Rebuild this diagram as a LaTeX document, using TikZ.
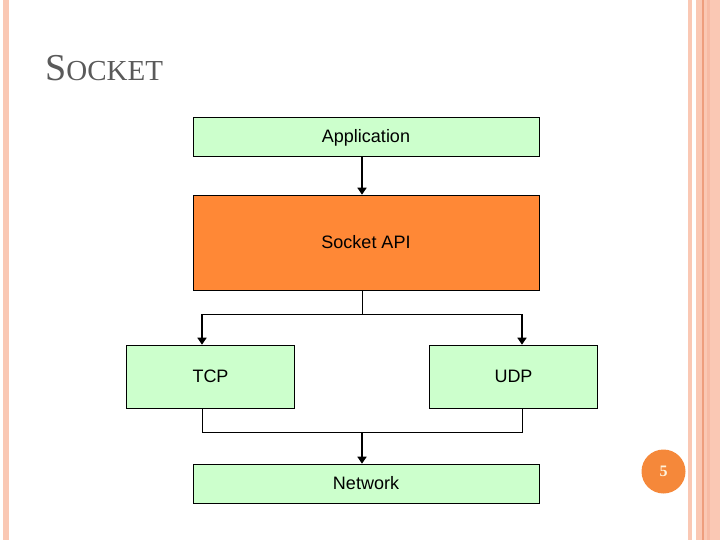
\documentclass[tikz,border=0pt]{standalone}
\usepackage{fontspec}
\setmainfont{Liberation Sans}
\newfontfamily\titlefont{Liberation Serif}
\usetikzlibrary{arrows.meta}
\definecolor{color_stripe}{HTML}{FAC8B4}
\definecolor{color_stripe_dark}{HTML}{F7BBA5}
\definecolor{color_stripe_line}{HTML}{EE9E7E}
\definecolor{color_title}{HTML}{5A5A5A}
\definecolor{color_box_green}{HTML}{CCFFCC}
\definecolor{color_box_orange}{HTML}{FF8836}
\definecolor{color_pagenum}{HTML}{F5883A}
\definecolor{color_pagenum_text}{HTML}{FFF3DC}
\def\boxlinewidth{0.6pt}
\def\arrowlinewidth{1.6pt}
\def\boxfontsize{\fontsize{18}{20}\selectfont}
\tikzset{
    layerbox/.style={draw=black, line width=\boxlinewidth, fill=color_box_green, inner sep=0pt,
        text height=12.9pt, text depth=0pt, font=\boxfontsize},
    downarrow/.style={line width=\arrowlinewidth, -{Triangle[width=9pt,length=7pt]}},
    wire/.style={line width=\boxlinewidth}
}

\begin{document}
\begin{tikzpicture}[x=1pt,y=-1pt]
        \useasboundingbox (0,0) rectangle (720,540);
        % slide frame stripes
        \fill[color_stripe] (3,0) rectangle (9,540);
        \fill[color_stripe] (688,0) rectangle (692,540);
        \fill[color_stripe] (696,0) rectangle (720,540);
        \fill[color_stripe_dark] (707,0) rectangle (710,540);
        \fill[color_stripe_line] (702,0) rectangle (703.5,540);
        % title
        \node[anchor=base west, inner sep=0pt, color_title] (title) at (45,81)
            {\titlefont\fontsize{38}{38}\selectfont S\fontsize{29}{29}\selectfont OCKET};
        % layers
        \node[layerbox, minimum width=346pt, minimum height=39pt] (app) at (366,136.5) {Application};
        \node[layerbox, fill=color_box_orange, minimum width=346pt, minimum height=95pt] (api) at (366,242.5) {Socket API};
        \node[layerbox, minimum width=168pt, minimum height=63pt] (tcp) at (210.5,376.5) {TCP};
        \node[layerbox, minimum width=168pt, minimum height=63pt] (udp) at (513.5,376.5) {UDP};
        \node[layerbox, minimum width=346pt, minimum height=39pt] (net) at (366,483.5) {Network};
        % connectors
        \coordinate (split) at (362,314);
        \coordinate (join) at (362,432);
        \draw[downarrow] ([xshift=-4pt]app.south) -- ([xshift=-4pt]api.north);
        \draw[wire] ([xshift=-4pt]api.south) -- (split);
        \draw[wire] (split) -- (split -| 202,0) coordinate (tcpin);
        \draw[wire] (split) -- (split -| 522,0) coordinate (udpin);
        \draw[downarrow] (tcpin) -- (tcpin |- tcp.north);
        \draw[downarrow] (udpin) -- (udpin |- udp.north);
        \draw[wire] (tcpin |- tcp.south) -- (tcpin |- join) -- (udpin |- join) -- (udpin |- udp.south);
        \draw[downarrow] (join) -- (join |- net.north);
        % page number
        \fill[color_pagenum] (663.5,471.5) circle (22);
        \node[color_pagenum_text, font=\titlefont\bfseries\fontsize{16}{16}\selectfont] (pagenum) at (663.5,471.5) {5};
    \end{tikzpicture}
\end{document}
